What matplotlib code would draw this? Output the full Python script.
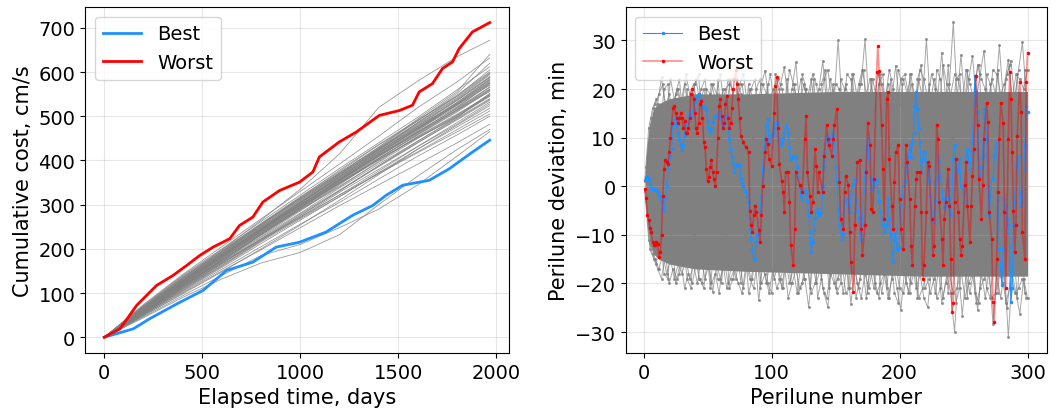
import numpy as np
import matplotlib
matplotlib.use("Agg")
import matplotlib.pyplot as plt

plt.rcParams['font.family'] = ['DejaVu Sans']
plt.rcParams['font.size'] = 14
plt.rcParams['axes.labelsize'] = 15

# ---------------- left panel: cumulative cost ----------------
days = [0, 200, 400, 600, 800, 1000, 1200, 1400, 1600, 1800, 1966]
gray_cost = [
    [0, 62, 125, 180, 240, 300, 352, 410, 462, 515, 560],
    [0, 55, 112, 168, 226, 281, 338, 392, 444, 496, 540],
    [0, 68, 133, 192, 252, 310, 368, 425, 480, 538, 590],
    [0, 58, 118, 176, 232, 288, 340, 398, 455, 505, 548],
    [0, 50, 104, 158, 212, 265, 318, 372, 420, 470, 512],
    [0, 72, 140, 200, 262, 322, 382, 440, 498, 560, 612],
    [0, 60, 121, 182, 245, 305, 362, 418, 470, 522, 572],
    [0, 53, 110, 162, 218, 272, 328, 380, 432, 482, 528],
    [0, 65, 128, 190, 250, 305, 360, 420, 476, 532, 585],
    [0, 57, 114, 172, 228, 286, 345, 405, 460, 515, 566],
    [0, 48, 100, 150, 198, 248, 298, 345, 392, 440, 482],
    [0, 70, 136, 195, 258, 318, 375, 435, 490, 548, 600],
    [0, 61, 124, 186, 246, 300, 355, 412, 468, 528, 578],
    [0, 56, 116, 174, 236, 294, 350, 402, 452, 500, 545],
    [0, 66, 130, 188, 244, 298, 356, 415, 472, 525, 575],
    [0, 59, 120, 178, 238, 296, 354, 412, 466, 518, 562],
    [0, 64, 126, 184, 242, 302, 362, 424, 486, 546, 605],
    [0, 52, 108, 166, 222, 276, 332, 386, 440, 494, 538],
    [0, 74, 142, 205, 268, 330, 392, 455, 520, 578, 632],
    [0, 62, 118, 170, 222, 272, 322, 370, 418, 465, 505],
    [0, 44, 90, 132, 168, 192, 232, 300, 365, 425, 470],
    [0, 68, 134, 198, 265, 335, 415, 520, 580, 635, 672],
    [0, 54, 110, 170, 232, 292, 350, 408, 464, 520, 574],
    [0, 63, 128, 194, 256, 316, 372, 428, 486, 542, 596],
    [0, 58, 114, 168, 220, 270, 322, 376, 432, 486, 532],
    [0, 67, 131, 190, 254, 316, 378, 436, 492, 545, 598],
    [0, 60, 122, 182, 240, 296, 350, 402, 452, 498, 552],
    [0, 49, 98, 148, 200, 254, 310, 368, 426, 480, 524],
    [0, 71, 138, 198, 256, 314, 372, 430, 490, 552, 620],
    [0, 56, 114, 174, 234, 292, 348, 404, 458, 510, 558],
    [0, 61, 123, 185, 244, 304, 364, 420, 478, 536, 588],
    [0, 54, 106, 160, 216, 268, 318, 372, 426, 476, 518],
    [0, 65, 127, 187, 248, 306, 364, 422, 474, 530, 582],
    [0, 59, 117, 176, 235, 294, 354, 410, 464, 514, 556],
    [0, 52, 102, 154, 205, 256, 305, 358, 410, 458, 500],
    [0, 69, 135, 193, 252, 312, 370, 430, 494, 556, 640],
    [0, 46, 94, 140, 185, 210, 248, 290, 345, 410, 465],
    [0, 60, 119, 179, 237, 293, 349, 405, 459, 512, 560],
    [0, 63, 124, 183, 243, 301, 357, 414, 471, 527, 580],
    [0, 57, 117, 175, 231, 289, 347, 401, 454, 503, 550],
    [0, 66, 129, 189, 249, 309, 367, 427, 484, 540, 594],
    [0, 55, 111, 166, 223, 279, 333, 388, 441, 492, 536],
    [0, 62, 126, 187, 247, 304, 359, 416, 473, 531, 583],
    [0, 58, 115, 173, 233, 290, 342, 396, 450, 502, 546],
    [0, 64, 127, 185, 245, 307, 366, 426, 482, 536, 588],
    [0, 51, 106, 163, 219, 275, 331, 388, 444, 498, 548],
    [0, 67, 132, 194, 255, 313, 369, 424, 478, 528, 576],
    [0, 59, 121, 180, 239, 298, 358, 418, 474, 526, 570],
    [0, 61, 122, 181, 241, 299, 356, 411, 465, 519, 566],
]

worst_days = [0, 46, 80, 165, 266, 351, 419, 487, 555, 640, 690, 758, 809, 894,
              996, 1064, 1097, 1199, 1284, 1403, 1505, 1572, 1606, 1674, 1725,
              1776, 1810, 1878, 1966]
worst_cost = [0, 11, 19, 72, 117, 140, 162, 185, 204, 223, 253, 272, 306, 332,
              351, 374, 408, 442, 464, 502, 513, 525, 555, 574, 608, 623, 653,
              691, 712]
best_days = [0, 148, 232, 385, 504, 623, 758, 877, 996, 1131, 1267, 1369, 1437,
             1522, 1657, 1759, 1878, 1966]
best_cost = [0, 19, 42, 79, 106, 151, 170, 204, 215, 238, 276, 298, 321, 344,
             355, 381, 419, 446]

# ---------------- right panel: perilune deviation ----------------
band_n = [1, 2, 3, 5, 8, 12, 20, 40, 80, 150, 220, 300]
band_hi = [1, 6, 9, 13, 16, 17, 18, 19, 19, 19.5, 19.5, 19.5]
band_lo = [-1, -5, -8, -12, -14, -15, -16, -17, -17.5, -18, -18.5, -18.5]

edge_hi_a = [1, 12, 16, 18, 12, 20, 21, 10, 19, 22, 13, 20, 8, 21, 23, 11, 20,
             19, 9, 22, 14, 20, 21, 7, 22, 19, 12, 21, 10, 20, 22, 13, 21, 8, 23,
             20, 11, 22, 14, 21, 9, 23, 20, 12, 22, 10, 21, 24, 13, 21, 8, 22, 20,
             11, 23, 14, 21, 24, 9, 22, 12, 21, 23, 10, 22, 13, 24, 21, 8, 23, 11,
             22, 25, 12, 21, 9, 24, 22, 13, 25, 10, 22, 23, 12, 24, 9, 22, 25, 11,
             23, 21, 14, 24, 10, 22, 25, 12, 23, 9, 24]
edge_hi_b = [4, 12, 15, 17, 22.4, 16, 19, 15, 20, 17, 21, 16, 19, 22, 17, 20, 16,
             21, 18, 15, 20, 17, 22, 16, 19, 21, 15, 20, 18, 16, 21, 23.8, 17,
             20, 16, 21, 24.5, 17, 20, 25.5, 16, 21, 18, 22, 16, 20, 25.8, 17,
             22, 18, 30, 17, 21, 16, 23, 18, 21, 30.3, 17, 22, 18, 23, 16, 21,
             18, 24.8, 17, 22, 19, 23, 16, 22, 18, 30.3, 17, 22, 19, 27.5, 18,
             21, 33.7, 18, 27, 17, 22, 26.8, 18, 23, 27.9, 17, 22, 19, 29, 18,
             23, 25.8, 18, 24, 29.6, 19]
edge_hi_c = [3, 14, 17, 19, 21, 15, 22, 18, 20, 16, 23, 19, 21, 17, 20, 22, 15,
             21, 19, 23, 16, 22, 20, 18, 21, 23, 17, 20, 22, 15, 21, 19, 23, 17,
             22, 20, 16, 24, 21, 18, 22, 20, 17, 23, 21, 16, 22, 24, 18, 21, 20,
             17, 23, 22, 16, 21, 24, 19, 22, 17, 23, 21, 18, 24, 20, 16, 22, 23,
             19, 21, 17, 24, 22, 18, 23, 20, 16, 25, 21, 19, 23, 22, 17, 24, 21,
             18, 25, 22, 20, 17, 24, 23, 19, 21, 26, 18, 23, 22, 20, 24]
edge_lo_a = [-1, -11, -14, -16, -10, -18, -19, -9, -20, -18, -12, -19, -21, -8,
             -19, -20, -11, -21, -13, -19, -20, -9, -21, -19, -12, -20, -10, -22,
             -19, -13, -21, -8, -20, -22, -11, -19, -21, -12, -20, -9, -22, -20,
             -13, -21, -10, -23, -19, -12, -21, -9, -22, -20, -11, -21, -13, -23,
             -19, -10, -22, -12, -20, -23, -9, -21, -13, -22, -24, -11, -20, -22,
             -10, -23, -12, -21, -19, -9, -23, -21, -13, -22, -10, -24, -21, -12,
             -23, -9, -22, -24, -11, -21, -23, -13, -22, -10, -24, -21, -12, -23,
             -10, -22]
edge_lo_b = [-6, -12, -15, -17, -14, -18, -15, -19, -16, -18, -15, -19, -16, -20,
             -15, -19, -16, -21.8, -16, -19, -15, -20, -16, -19, -15, -21, -16,
             -19, -15, -23.5, -16, -20, -15, -19, -16, -21, -15, -20, -17, -22,
             -16, -19, -24.9, -16, -20, -17, -22, -24.9, -16, -21, -17, -22, -16,
             -24.2, -17, -21, -16, -23, -17, -21, -16, -22, -17, -23, -16, -21,
             -25.5, -17, -22, -16, -21, -18, -23, -24.9, -17, -22, -16, -23, -18,
             -22, -30, -17, -26.6, -18, -22, -17, -25.5, -18, -23, -17, -28.3,
             -18, -23, -17, -31, -18, -22, -26.2, -19, -23]
edge_lo_c = [-3, -13, -15, -17, -19, -14, -20, -17, -19, -15, -21, -18, -20, -16,
             -19, -21, -15, -20, -18, -22, -16, -21, -19, -17, -20, -22, -16, -19,
             -21, -15, -20, -18, -22, -17, -21, -19, -16, -23, -20, -17, -21, -19,
             -16, -22, -20, -15, -21, -23, -18, -20, -19, -16, -22, -21, -15, -20,
             -23, -18, -21, -17, -22, -20, -18, -23, -19, -16, -21, -22, -18, -20,
             -17, -23, -21, -18, -22, -19, -16, -24, -20, -18, -22, -21, -17, -23,
             -20, -18, -24, -21, -19, -17, -23, -22, -18, -20, -25, -18, -22, -21,
             -19, -23]

best_dev = [1.2, 1.8, 1.9, 1.5, 0.5, -0.5, -0.3, -0.5, -0.6, -0.8, -1.2, -1.8,
            -2.5, -3.3, -4.7, -5, -2.5, 0.1, 3.6, 5.5, 6.3, 7.7, 12.5, 13.8, 14.2,
            12.5, 11, 9.7, 8.4, 7.5, 8.5, 10.5, 12.5, 13.2, 14, 15.2, 14.5, 15.5,
            15.9, 17.3, 17.8, 18.6, 19, 18, 16.6, 16.2, 16.5, 16, 15.9, 13.5, 11.5,
            11, 12, 13.2, 14, 14.5, 14.5, 15, 15.2, 14, 13, 12.5, 13.5, 14.5, 14.5,
            12, 9.7, 7.5, 6.3, 4.5, 3, 4.2, 4.5, 4.4, 4.3, 1.5, 0.5, 0, -1, -1.2,
            -2, -3.3, -6.7, -10.8, -13, -15, -15, -11.5, -10, -9.5, -5.3, -2, 3.6,
            7, 10, 12.5, 13.8, 9, 10, 10.5, 11, 12, 13, 13.2, 12.5, 10, 8.4, 9, 10,
            11, 12.5, 12, 11, 8, 5.6, 6, 6.3, 6.3, 6, 4, 2, 0, -2, -2.6, -1, -0.7,
            -1.4, -3, -6, -9.5, -13.6, -11.5, -9, -6.5, -5.3, -4.6, -6, -5.5, -5.3,
            0, 4, 7, 10.4, 8.4, 9, 10, 11, 10.4, 9, 4, 1, -4.7, -8, -9.5, -10.8,
            -9.8, -3.5, -2.6, -3, -4, -5.3, -1.5, 0, 0.5, 1.5, -2.6, -5, -6.5, -8.8,
            -10.8, -8, -1, 2.9, 7.7, 9.7, 6, 2, -0.5, 1.5, 0.1, 1.5, 1, -1, -3,
            -5.3, -6.5, -8, -9.5, -9, -8, -2.6, -6.7, -10, -13.6, -15.6, -11, -8.5,
            -12.9, -13.2, -12.5, -4, -2, 0, 1, 2.9, 4.8, 6, 8.4, 6, 9, 11, 16.6,
            19.3, 15.9, 12, 9, 2.9, 5.6, 7, 6.8, 4.9, 3.5, 1, -2, -5.3, -7.4, -6.7,
            -3, 1.5, 6.3, 4.9, 2, -1, -2.6, -4.6, -4, -2, 1.5, -2.6, -6, -1, 5.6,
            8.4, 5.6, 3, 3.2, 5.6, 0.1, 0.1, -1, -3.3, 6.3, 7.7, 5, 3.6, 7, 9, 17,
            22.7, 19.3, 15.2, 4, 2.2, 4, 6.3, 15.9, 12, 9.7, 0.1, -6, -2, 1.5, 1.5,
            6.3, 8, 9, -2.6, -12.9, -17, -20.4, -13, -2.6, -4, -6.7, -8, -12.2,
            -23.9, -21, -8, -3.3, 4.2, 5, 6.3, -1.2, -4, -3.3, 3.5, 8.4, 16.6, 15.2]

worst_n = [1, 2, 3, 4, 5, 6, 7, 8, 9, 10, 11, 12, 13, 14, 15, 16, 17, 18, 19, 20,
           21, 22, 23, 24, 25, 26, 27, 28, 29, 30, 31, 32, 33, 34, 35, 36, 37, 38,
           39, 40, 41, 42, 43, 44, 45, 46, 47, 48, 49, 50, 51, 52, 53, 54, 55, 56,
           57, 58, 59, 60, 61, 62, 63, 64, 65, 66, 67, 68, 69, 70, 71, 72, 73, 74,
           75, 76, 78, 80, 82, 83, 84, 85, 86, 87, 88, 90, 91, 92, 93, 95, 96, 97,
           98, 100, 102, 103, 104, 105, 106, 108, 109, 110, 111, 113, 114, 115,
           117, 118, 119, 122, 124, 126, 127, 128, 130, 131, 132, 134, 135, 136,
           137, 140, 141, 143, 144, 145, 147, 148, 149, 151, 153, 154, 156, 157,
           158, 160, 161, 162, 164, 165, 167, 169, 170, 171, 173, 174, 175, 177,
           178, 179, 180, 182, 183, 184, 186, 187, 188, 190, 191, 192, 194, 195,
           196, 197, 199, 200, 201, 203, 205, 206, 208, 209, 210, 212, 213, 214,
           216, 217, 218, 219, 221, 222, 223, 225, 226, 227, 229, 230, 231, 233,
           234, 235, 236, 238, 239, 240, 241, 242, 243, 244, 246, 247, 248, 249,
           251, 252, 253, 255, 256, 257, 258, 260, 261, 262, 264, 265, 266, 268,
           269, 270, 272, 273, 274, 276, 277, 278, 279, 281, 282, 283, 285, 286,
           287, 288, 289, 290, 291, 292, 294, 295, 296, 298, 299, 300]
worst_dev = [-0.5, -2.5, -6, -7, -8.5, -9.5, -11.5, -12, -12, -11.5, -11.8, -14.5,
             -13.5, -10, -2, 3.5, 5.5, 5, 4.5, 7, 10, 13, 16, 16.5, 15, 14, 13, 14,
             15, 14, 12, 13.5, 11, 11, 12, 14, 19, 20, 18, 15, 12, 11, 13, 17,
             17.5, 14, 9, 8, 3.5, 1, 2, 4, 5.5, 3, 1.5, 0, 3, 10, 16.5, 18, 14.5,
             12, 13, 17, 18.6, 14, 12, 13, 16, 20, 22, 24, 21, 18, 14, 10.4, 9, 8,
             7, -5, -8, -9.5, -6, -4, -5.3, -9, -11.5, -6, 0, 7, 9.7, 8.7, 5.6,
             4.2, 15, 20.7, 22.4, 12, 4.6, 1, -1.2, -5.3, 2.9, 2.9, -3.3, -12,
             -16.3, -8.8, 2.9, 0.2, -1.2, 9.7, 14.5, 2.9, -2, -5.3, -3.3, 7.7, 4.2,
             -1.2, 2.9, -1.2, 6.3, 12.5, 9.7, 8.4, 6.3, 9.7, 12.5, 15.9, 0.8, -6.7,
             -8.8, -1.2, 2.2, 0.2, -9.5, -15.6, -21.8, -8, 4.9, 5.3, -8.8, -14.2,
             -8, 2.9, 13, 8.4, -4.7, -5.3, 1.5, 23.4, 28.9, 23.8, 12.5, 3.6, -6.7,
             18, 19.3, 5.6, -4, -8.8, 0.8, 7, 8.4, -2.6, -8.8, -12.9, 8.4, 5, -2.6,
             -12.2, -16.3, -4, 1.5, 2.9, 2.9, -5.3, -19, -16.3, -5.3, 4.9, 4.2,
             -6.7, -14.2, -12.2, 12.5, 9.7, -3.3, -10.8, -16.3, -6.7, -3.3, 3.6,
             -4, -15, -25.9, -24, -3.3, 5.6, -5.3, -10.8, -14.2, -12.2, 0.2, 4.9,
             -4, -11.5, -4, 2.2, 7.7, 22.7, 12.5, 1.5, -6.7, 0.2, 9.7, 17.2, 13.2,
             -5.3, -10.8, -23.9, -28, -15, -1.2, 9.7, 17.2, 13, -5.3, -21, 9.7,
             23.4, 18, 7, -5, -13.6, -8, 10.4, 21.4, 15.2, -9.5, -15, 21.4, 27.5]


def every_third(start, values):
    return np.arange(start, start + 3 * len(values), 3)


fig = plt.figure(figsize=(10.56, 4.14), dpi=100)
ax1 = fig.add_axes([0.0805, 0.145, 0.4015, 0.836])
ax2 = fig.add_axes([0.5925, 0.145, 0.3987, 0.836])

# left
for trace in gray_cost:
    ax1.plot(days, trace, color='gray', lw=0.6, alpha=0.8)
ax1.plot(best_days, best_cost, color='dodgerblue', lw=2, label='Best')
ax1.plot(worst_days, worst_cost, color='red', lw=2, label='Worst')
ax1.set_xlabel('Elapsed time, days')
ax1.set_ylabel('Cumulative cost, cm/s')
ax1.set_xticks([0, 500, 1000, 1500, 2000])
ax1.set_yticks(range(0, 701, 100))
ax1.grid(True, alpha=0.3)
ax1.legend(loc='upper left')

# right
ax2.fill_between(band_n, band_lo, band_hi, color='#808080', lw=0)
gray_kw = dict(color='gray', lw=0.7, alpha=0.7, marker='.', ms=2.5)
ax2.plot(every_third(1, edge_hi_a), edge_hi_a, **gray_kw)
ax2.plot(every_third(2, edge_hi_b), edge_hi_b, **gray_kw)
ax2.plot(every_third(3, edge_hi_c), edge_hi_c, **gray_kw)
ax2.plot(every_third(1, edge_lo_a), edge_lo_a, **gray_kw)
ax2.plot(every_third(3, edge_lo_b), edge_lo_b, **gray_kw)
ax2.plot(every_third(2, edge_lo_c), edge_lo_c, **gray_kw)
ax2.plot(np.arange(1, len(best_dev) + 1), best_dev, color='dodgerblue', lw=0.8,
         marker='.', ms=3, label='Best')
ax2.plot(worst_n, worst_dev, color=(1, 0, 0, 0.45), lw=1.2, marker='.', ms=3,
         markerfacecolor='red', markeredgecolor='red', label='Worst')
ax2.set_xlabel('Perilune number')
ax2.set_ylabel('Perilune deviation, min')
ax2.set_xticks([0, 100, 200, 300])
ax2.set_yticks([-30, -20, -10, 0, 10, 20, 30])
ax2.set_xlim(-14, 315)
ax2.set_ylim(-34.3, 36.9)
ax2.grid(True, alpha=0.3)
ax2.legend(loc='upper left')

fig.savefig('out.png', dpi=100)
